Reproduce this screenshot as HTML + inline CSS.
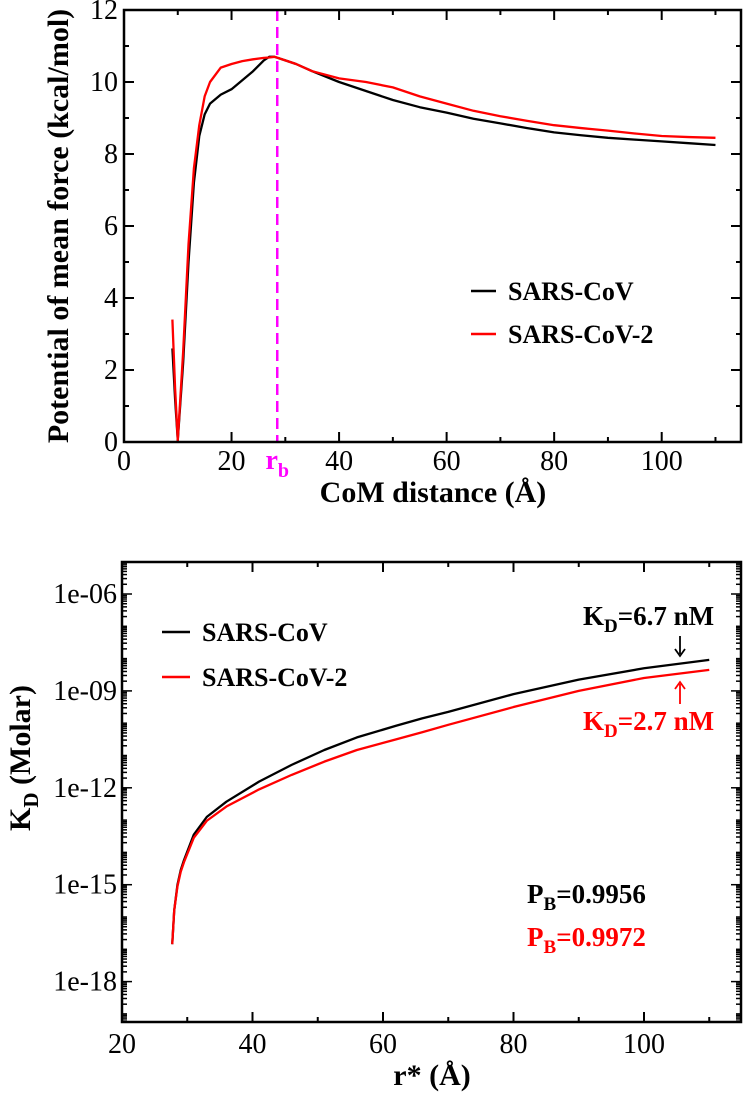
<!DOCTYPE html>
<html><head><meta charset="utf-8"><style>
html,body{margin:0;padding:0;background:#fff;width:743px;height:1095px;overflow:hidden}
svg{display:block;font-family:"Liberation Serif",serif}
</style></head><body>
<svg id="fig" width="743" height="1095" viewBox="0 0 743 1095"></svg>
<script>
// ---- Top chart data (PMF) ----
const pmfX = [9,9.5,10,11,12,13,14,15,16,18,20,22,24,26,27,28,30,32,35,40,45,50,55,60,65,70,75,80,85,90,95,100,105,110];
const pmfCov1 = [2.6,1.2,0.05,2.2,5.0,7.2,8.5,9.1,9.4,9.65,9.8,10.05,10.3,10.6,10.7,10.7,10.6,10.5,10.3,10.0,9.75,9.5,9.3,9.15,8.98,8.85,8.72,8.6,8.52,8.45,8.4,8.35,8.3,8.25];
const pmfCov2 = [3.4,1.5,0.05,2.5,5.5,7.6,8.8,9.6,10.0,10.4,10.5,10.58,10.63,10.67,10.68,10.7,10.6,10.5,10.3,10.1,10.0,9.85,9.6,9.4,9.2,9.05,8.92,8.8,8.72,8.65,8.57,8.5,8.47,8.45];
const topXTicks = [0,20,40,60,80,100];
const topYTicks = [0,2,4,6,8,10,12];
const rb = 28.5;
// ---- Bottom chart data (KD, log10 Molar) ----
const kdX = [27.7,28,28.5,29,29.5,31,33,36,41,46,51,56,62,66,70,80,90,100,110];
const kdCov1 = [-16.84,-15.8,-15.0,-14.55,-14.24,-13.45,-12.9,-12.43,-11.81,-11.29,-10.83,-10.44,-10.08,-9.85,-9.65,-9.1,-8.65,-8.3,-8.04];
const kdCov2 = [-16.84,-15.8,-15.05,-14.6,-14.3,-13.55,-13.02,-12.58,-12.05,-11.6,-11.19,-10.83,-10.5,-10.28,-10.05,-9.5,-9.0,-8.6,-8.35];
const botXTicks = [20,40,60,80,100];
const botYTicks = [-18,-15,-12,-9,-6];

const NS = "http://www.w3.org/2000/svg";
const svg = document.getElementById('fig');
function mk(tag, attrs, parent){const e=document.createElementNS(NS,tag);for(const k in attrs)e.setAttribute(k,attrs[k]);(parent||svg).appendChild(e);return e;}
function txt(g,x,y,html,attrs,name){const t=mk('text',Object.assign({x:x,y:y},attrs),g);t.innerHTML=html;
  return t;}
function poly(xs,ys,fx,fy,col,name,g){
  const p=mk('polyline',{points:xs.map((x,i)=>fx(x)+','+fy(ys[i])).join(' '),fill:'none',stroke:col,'stroke-width':2.3,'stroke-linejoin':'round'},g);
  
}

const tx = v => 124 + v*5.377;
const ty = v => 442 - v*36;
const bx = v => 122 + (v-20)*6.525;
const by = v => 594 - (v+6)*32.3;

// ---------- TOP ----------
const gTop = mk('g',{});


for(let v=0; v<=115; v+=10){
  const L = v%20===0?10:5;
  mk('line',{x1:tx(v),x2:tx(v),y1:442,y2:442-L,stroke:'#000','stroke-width':2},gTop);
  mk('line',{x1:tx(v),x2:tx(v),y1:10,y2:10+L,stroke:'#000','stroke-width':2},gTop);
}
topXTicks.forEach(v=>txt(gTop,tx(v),470,String(v),{'text-anchor':'middle','font-size':28},'x-tick-label'));
for(let v=0; v<=12; v+=1){
  const L = v%2===0?10:5;
  mk('line',{x1:124,x2:124+L,y1:ty(v),y2:ty(v),stroke:'#000','stroke-width':2},gTop);
  mk('line',{x1:741,x2:741-L,y1:ty(v),y2:ty(v),stroke:'#000','stroke-width':2},gTop);
}
topYTicks.forEach(v=>txt(gTop,118,ty(v)+9,String(v),{'text-anchor':'end','font-size':28},'y-tick-label'));
const rbl=mk('line',{x1:tx(rb),x2:tx(rb),y1:10,y2:442,stroke:'#ff00ff','stroke-width':2.5,'stroke-dasharray':'11,6'},gTop);

poly(pmfX,pmfCov1,tx,ty,'#000','sars-cov-line',gTop);
poly(pmfX,pmfCov2,tx,ty,'#f00','sars-cov-2-line',gTop);
const f1=mk('rect',{x:124,y:10,width:617,height:432,fill:'none',stroke:'#000','stroke-width':2.5},gTop);

txt(gTop,tx(rb),469,'r<tspan font-size="20" dy="8">b</tspan>',{'text-anchor':'middle','font-size':28,'font-weight':'bold',fill:'#ff00ff'},'rb-label');
txt(gTop,433,502,'CoM distance (Å)',{'text-anchor':'middle','font-size':30,'font-weight':'bold'},'x-axis-title');
txt(gTop,0,0,'Potential of mean force (kcal/mol)',{'text-anchor':'middle','font-size':30,'font-weight':'bold',transform:'translate(68,226) rotate(-90)'},'y-axis-title');
const lg=mk('g',{},gTop);
mk('line',{x1:471,x2:496,y1:291,y2:291,stroke:'#000','stroke-width':2.5},lg);
txt(lg,508,300,'SARS-CoV',{'font-size':26,'font-weight':'bold'},'legend-entry-sars-cov');
mk('line',{x1:471,x2:496,y1:334,y2:334,stroke:'#f00','stroke-width':2.5},lg);
txt(lg,508,343,'SARS-CoV-2',{'font-size':26,'font-weight':'bold'},'legend-entry-sars-cov-2');

// ---------- BOTTOM ----------
const gB = mk('g',{});


for(let v=20; v<=115; v+=10){
  const L = v%20===0?10:5;
  mk('line',{x1:bx(v),x2:bx(v),y1:1022,y2:1022-L,stroke:'#000','stroke-width':2},gB);
  mk('line',{x1:bx(v),x2:bx(v),y1:562,y2:562+L,stroke:'#000','stroke-width':2},gB);
}
botXTicks.forEach(v=>txt(gB,bx(v),1053,String(v),{'text-anchor':'middle','font-size':28},'x-tick-label'));
for(let d=-20; d<=-5; d++){
  for(let m=1;m<10;m++){
    const lv=d+Math.log10(m); const y=by(lv);
    if(y<562||y>1022) continue;
    const major = m===1 && (d%3===0);
    const L = major?10:5;
    mk('line',{x1:122,x2:122+L,y1:y,y2:y,stroke:'#000','stroke-width':1.5},gB);
    mk('line',{x1:741,x2:741-L,y1:y,y2:y,stroke:'#000','stroke-width':1.5},gB);
  }
}
botYTicks.forEach(v=>txt(gB,117,by(v)+9,'1e'+(v<0?'-':'')+String(Math.abs(v)).padStart(2,'0'),{'text-anchor':'end','font-size':28},'y-tick-label'));
poly(kdX,kdCov1,bx,by,'#000','sars-cov-kd-line',gB);
poly(kdX,kdCov2,bx,by,'#f00','sars-cov-2-kd-line',gB);
const f2=mk('rect',{x:122,y:562,width:619,height:460,fill:'none',stroke:'#000','stroke-width':2.5},gB);

txt(gB,432,1085,'r* (Å)',{'text-anchor':'middle','font-size':30,'font-weight':'bold'},'x-axis-title');
txt(gB,0,0,'K<tspan font-size="21" dy="8">D</tspan><tspan dy="-8"> (Molar)</tspan>',{'text-anchor':'middle','font-size':30,'font-weight':'bold',transform:'translate(30,758) rotate(-90)'},'y-axis-title');
const lg2=mk('g',{},gB);
mk('line',{x1:162,x2:190,y1:632,y2:632,stroke:'#000','stroke-width':2.5},lg2);
txt(lg2,202,641,'SARS-CoV',{'font-size':26,'font-weight':'bold'},'legend-entry-sars-cov');
mk('line',{x1:162,x2:190,y1:677,y2:677,stroke:'#f00','stroke-width':2.5},lg2);
txt(lg2,202,686,'SARS-CoV-2',{'font-size':26,'font-weight':'bold'},'legend-entry-sars-cov-2');
txt(gB,583,625,'K<tspan font-size="19" dy="7">D</tspan><tspan dy="-7">=6.7 nM</tspan>',{'font-size':27,'font-weight':'bold'},'kd-annotation-sars-cov');
txt(gB,583,730,'K<tspan font-size="19" dy="7">D</tspan><tspan dy="-7">=2.7 nM</tspan>',{'font-size':27,'font-weight':'bold',fill:'#f00'},'kd-annotation-sars-cov-2');
mk('line',{x1:680,x2:680,y1:636,y2:654,stroke:'#000','stroke-width':1.8},gB);
mk('path',{d:'M675,649 L680,656 L685,649',fill:'none',stroke:'#000','stroke-width':1.8},gB);
mk('line',{x1:680,x2:680,y1:704,y2:684,stroke:'#f00','stroke-width':1.8},gB);
mk('path',{d:'M675,689 L680,682 L685,689',fill:'none',stroke:'#f00','stroke-width':1.8},gB);
txt(gB,527,903,'P<tspan font-size="19" dy="7">B</tspan><tspan dy="-7">=0.9956</tspan>',{'font-size':27,'font-weight':'bold'},'pb-annotation-sars-cov');
txt(gB,527,946,'P<tspan font-size="19" dy="7">B</tspan><tspan dy="-7">=0.9972</tspan>',{'font-size':27,'font-weight':'bold',fill:'#f00'},'pb-annotation-sars-cov-2');
</script>
</body></html>
